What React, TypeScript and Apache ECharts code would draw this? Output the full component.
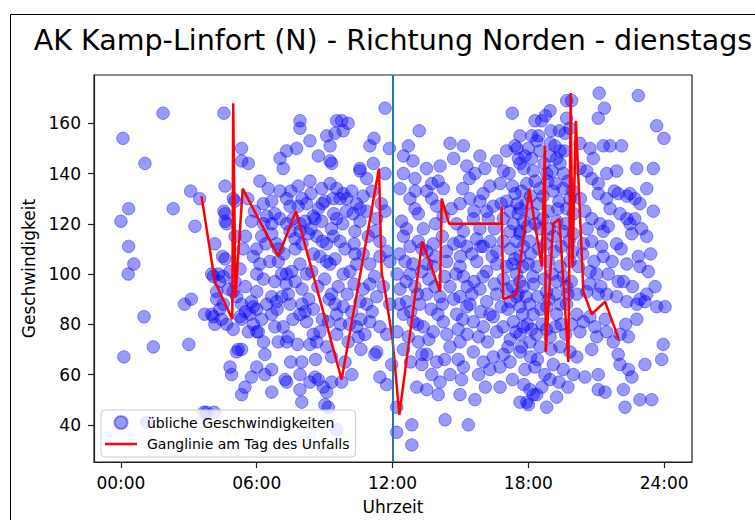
import React, { useEffect, useRef } from "react";
import * as echarts from "echarts";

const FONT = "DejaVu Sans";

const TITLE = "AK Kamp-Linfort (N) - Richtung Norden - dienstags";
const SCATTER_NAME = "übliche Geschwindigkeiten";
const LINE_NAME = "Ganglinie am Tag des Unfalls";

const HOUR_TICKS = [0, 6, 12, 18, 24];
const SPEED_TICKS = [40, 60, 80, 100, 120, 140, 160];
const ACCIDENT_HOUR = 12;

// usual speeds [hour of day, km/h], grouped by time block
const night: [number, number][] = [
  [1.86, 164], [0.09, 154], [1.06, 144], [3.08, 133], [3.48, 130], [0.34, 126], [2.31, 126],
  [0.0, 121], [3.27, 119], [0.34, 111], [0.57, 104], [0.32, 100], [3.11, 90], [2.81, 88],
  [1.02, 83], [3.7, 84], [1.43, 71], [3.0, 72], [0.13, 67], [3.67, 45], [1.15, 41], [3.79, 45],
];

const morning: [number, number][] = [
  [4.55, 164], [7.91, 161], [7.91, 158], [5.33, 150], [7.32, 149], [7.76, 150], [7.03, 146],
  [7.17, 142], [5.33, 145], [5.63, 144], [6.14, 137], [6.51, 134], [7.03, 133], [7.83, 135],
  [4.6, 135], [4.96, 130], [6.29, 128], [6.66, 129], [7.32, 130], [7.47, 127], [7.83, 127],
  [4.55, 125], [4.6, 121], [5.77, 121], [6.44, 123], [6.66, 120], [7.03, 122], [7.32, 120],
  [7.61, 122], [7.91, 120], [6.22, 115], [6.66, 116], [6.88, 112], [6.95, 110], [7.47, 117],
  [7.69, 114], [7.91, 117], [4.15, 112], [4.49, 107], [4.6, 106], [5.4, 110], [5.26, 102],
  [5.85, 107], [6.14, 104], [6.58, 105], [6.95, 105], [7.1, 100], [7.32, 100], [7.54, 101],
  [7.91, 104], [4.01, 100], [4.37, 97], [4.23, 93], [4.74, 94], [4.52, 88], [4.01, 84],
  [4.15, 80], [4.67, 80], [4.96, 78], [5.33, 88], [5.77, 89], [5.85, 87], [5.7, 84],
  [6.22, 82], [6.44, 88], [5.33, 82], [5.63, 77], [6.07, 77], [6.66, 91], [6.88, 89],
  [7.1, 91], [7.39, 92], [7.47, 88], [6.66, 84], [6.8, 79], [7.17, 79], [7.39, 75],
  [6.95, 73], [7.32, 73], [7.91, 84], [5.11, 69], [5.33, 70], [6.36, 68], [4.82, 63],
  [4.89, 60], [5.77, 59], [6.36, 60], [6.66, 62], [5.48, 55], [5.33, 52], [6.66, 53],
  [7.25, 58], [7.32, 57], [7.91, 60], [7.99, 65], [7.91, 54], [7.99, 49], [4.08, 99],
  [4.3, 100], [4.52, 99], [4.82, 101], [5.04, 97], [6.0, 100], [4.23, 90], [4.96, 93],
  [5.11, 91], [4.08, 83], [4.37, 86], [4.45, 82], [5.26, 83], [5.85, 80], [6.0, 77],
  [5.18, 70], [4.6, 124], [4.67, 120], [5.04, 115], [5.04, 129], [4.12, 45],
  [5.6, 130], [5.9, 125], [6.3, 120], [6.8, 124], [7.5, 133], [5.5, 115], [6.0, 110],
  [6.4, 112], [7.2, 108], [7.7, 110], [5.5, 95], [6.0, 93], [6.3, 98], [6.8, 97], [7.3, 96],
  [7.7, 97], [5.5, 85], [6.0, 86], [6.9, 86], [7.6, 82], [6.3, 73], [7.8, 72], [7.5, 65],
  [6.0, 63],
];

const midday: [number, number][] = [
  [8.2, 128], [9.53, 161], [9.75, 161], [10.04, 160], [9.09, 155], [9.46, 156], [9.82, 157],
  [8.35, 153], [9.24, 151], [8.72, 147], [9.24, 145], [9.31, 144], [10.56, 141], [8.35, 137],
  [8.87, 134], [9.24, 136], [9.53, 134], [9.82, 132], [8.72, 126], [9.01, 129], [9.38, 130],
  [9.68, 130], [9.97, 130], [10.41, 128], [10.56, 126], [8.5, 123], [8.57, 122], [8.87, 121],
  [9.53, 122], [9.97, 125], [10.26, 124], [10.56, 121], [10.34, 117], [8.13, 121], [8.28, 116],
  [8.65, 115], [9.09, 112], [9.38, 115], [9.68, 113], [8.5, 108], [8.79, 107], [9.09, 105],
  [8.2, 100], [8.43, 101], [9.24, 104], [9.46, 106], [9.82, 100], [10.12, 101], [10.34, 108],
  [10.41, 104], [8.13, 85], [8.2, 81], [8.5, 76], [8.79, 77], [9.16, 81], [8.35, 72],
  [8.65, 73], [9.09, 71], [9.31, 67], [9.46, 88], [9.53, 84], [9.82, 87], [10.19, 85],
  [10.41, 79], [9.53, 76], [10.04, 73], [10.49, 75], [8.57, 59], [8.72, 58], [8.94, 55],
  [9.09, 53], [9.31, 57], [9.75, 57], [8.35, 57], [9.01, 48], [9.16, 47], [9.53, 38],
  [11.67, 166], [11.0, 151], [11.18, 154], [11.86, 150], [10.56, 142], [10.86, 138],
  [11.15, 144], [11.67, 140], [10.86, 125], [11.3, 122], [11.67, 125], [10.93, 115],
  [11.44, 113], [11.74, 109], [11.0, 104], [11.44, 107], [11.88, 105], [11.0, 96], [11.3, 91],
  [10.86, 88], [10.56, 89], [11.59, 95], [11.88, 88], [11.0, 81], [11.44, 79], [11.74, 76],
  [10.78, 76], [11.3, 69], [11.22, 68], [11.44, 59], [11.74, 56], [11.96, 64],
  [8.0, 130], [8.4, 132], [8.9, 128], [9.4, 124], [9.8, 120], [10.2, 133], [10.7, 131],
  [11.1, 133], [11.5, 128], [8.0, 112], [8.4, 118], [8.9, 113], [9.3, 118], [9.9, 110],
  [10.3, 112], [10.7, 108], [11.2, 117], [8.0, 94], [8.3, 90], [8.7, 95], [9.0, 98], [9.3, 92],
  [9.6, 95], [10.0, 92], [10.3, 96], [10.7, 94], [11.2, 99], [8.0, 88], [8.5, 86], [8.9, 82],
  [9.2, 90], [9.7, 80], [10.1, 80], [10.6, 82], [11.1, 85], [8.6, 66], [9.9, 65], [10.6, 70],
  [10.2, 60],
];

const afternoon: [number, number][] = [
  [12.48, 147], [12.7, 151], [14.54, 152], [15.13, 151], [13.18, 157], [12.48, 140], [12.99, 138],
  [13.73, 136], [14.02, 137], [14.24, 134], [15.28, 143], [15.64, 140], [15.86, 147], [12.33, 134],
  [12.77, 130], [12.99, 126], [13.51, 133], [13.73, 130], [13.95, 127], [14.98, 128], [15.42, 130],
  [15.86, 129], [12.4, 121], [12.62, 118], [13.14, 124], [13.36, 118], [14.24, 123], [14.83, 120],
  [15.13, 117], [15.57, 122], [15.86, 118], [12.48, 115], [12.77, 111], [13.14, 113], [13.51, 109],
  [13.8, 112], [14.39, 109], [14.98, 113], [15.28, 111], [15.72, 114], [12.55, 105], [12.77, 100],
  [13.29, 101], [13.51, 104], [13.8, 103], [14.39, 105], [14.98, 103], [15.13, 99], [15.72, 105],
  [12.33, 94], [12.62, 89], [12.99, 95], [13.51, 92], [13.87, 95], [14.1, 91], [14.54, 95],
  [14.98, 91], [15.42, 88], [15.86, 94], [12.48, 84], [12.92, 81], [13.36, 79], [13.8, 77],
  [14.24, 81], [14.83, 84], [15.28, 87], [15.57, 81], [12.48, 70], [13.14, 73], [13.51, 68],
  [13.95, 65], [14.54, 71], [14.98, 73], [15.13, 63], [15.57, 69], [13.29, 64], [13.73, 60],
  [14.54, 60], [14.9, 66], [13.07, 55], [13.51, 54], [14.02, 52], [15.05, 58], [14.98, 52],
  [15.64, 50], [12.18, 47], [12.18, 37], [12.85, 40], [12.85, 32], [14.32, 42], [15.35, 40],
  [12.9, 145], [13.5, 142], [14.1, 143], [14.7, 146], [15.4, 138], [13.0, 133], [13.9, 120],
  [14.6, 126], [15.1, 134], [15.6, 125], [12.3, 108], [12.9, 104], [13.3, 110], [13.9, 107],
  [14.2, 115], [14.7, 112], [15.0, 107], [15.5, 108], [12.2, 100], [12.6, 97], [13.1, 92],
  [13.6, 98], [14.3, 99], [14.8, 100], [15.3, 95], [15.6, 97], [12.3, 88], [12.8, 85],
  [13.2, 88], [13.7, 86], [14.2, 88], [14.7, 90], [15.1, 82], [15.5, 92], [12.2, 77], [12.7, 75],
  [13.1, 80], [13.6, 74], [14.0, 84], [14.4, 76], [14.9, 78], [15.3, 76], [15.8, 75], [12.8, 65],
  [13.3, 68], [14.3, 66], [15.8, 60], [14.1, 57],
];

const evening: [number, number][] = [
  [16.6, 145], [16.08, 142], [17.29, 164], [17.04, 149], [17.41, 151], [17.56, 146], [16.75, 136],
  [16.16, 125], [16.45, 127], [17.04, 129], [17.41, 132], [16.23, 122], [16.89, 122], [17.34, 120],
  [17.63, 117], [17.78, 121], [16.01, 111], [16.31, 113], [16.6, 109], [17.19, 117], [17.48, 113],
  [17.78, 111], [16.16, 101], [16.6, 104], [17.04, 103], [17.48, 100], [16.16, 89], [16.6, 92],
  [17.04, 94], [17.48, 91], [17.78, 95], [16.01, 79], [16.45, 83], [16.89, 79], [17.34, 81],
  [17.78, 79], [16.01, 65], [16.45, 67], [16.75, 63], [17.19, 65], [17.63, 69], [16.75, 55],
  [17.63, 49], [19.69, 169], [19.91, 169], [18.96, 165], [18.29, 161], [18.59, 161], [19.69, 162],
  [19.84, 158], [19.37, 157], [19.62, 156], [17.63, 155], [18.15, 155], [18.37, 153], [18.96, 152],
  [19.18, 151], [19.4, 149], [17.85, 147], [18.15, 146], [18.51, 149], [18.96, 147], [19.4, 144],
  [17.63, 144], [18.22, 141], [18.81, 140], [17.93, 136], [18.51, 134], [19.1, 133], [19.54, 134],
  [19.84, 130], [17.63, 126], [18.22, 124], [18.88, 125], [19.25, 121], [19.69, 126], [19.99, 124],
  [17.63, 116], [18.07, 113], [18.51, 118], [19.1, 115], [19.54, 117], [19.99, 116], [17.63, 107],
  [18.0, 104], [18.37, 103], [18.88, 105], [19.4, 103], [19.84, 105], [17.63, 97], [18.22, 96],
  [18.81, 93], [19.25, 97], [19.69, 95], [17.63, 87], [18.22, 84], [18.81, 87], [19.25, 84],
  [19.69, 88], [17.63, 76], [18.07, 73], [18.51, 71], [18.96, 75], [19.4, 71], [19.84, 69],
  [17.85, 62], [18.29, 63], [18.73, 60], [19.1, 64], [19.54, 62], [19.99, 60], [18.07, 54],
  [18.37, 52], [18.81, 47], [19.25, 51], [17.93, 49], [18.0, 48], [18.22, 52],
  [16.3, 135], [16.9, 141], [16.0, 132], [16.5, 118], [16.8, 128], [15.9, 111], [16.4, 107],
  [16.9, 113], [17.2, 125], [16.0, 99], [16.5, 96], [16.9, 98], [17.3, 104], [15.9, 85],
  [16.3, 84], [16.8, 87], [17.2, 89], [16.2, 73], [16.6, 77], [17.1, 71], [16.3, 62], [16.9, 68],
  [16.1, 55], [17.15, 140], [17.3, 135], [17.5, 128], [17.7, 133], [17.9, 128], [18.1, 131],
  [18.3, 137], [18.45, 128], [18.65, 131], [18.85, 137], [19.05, 141], [19.2, 136], [19.35, 129],
  [19.55, 140], [19.75, 137], [19.95, 133], [17.2, 110], [17.4, 106], [17.55, 124], [17.75, 103],
  [17.95, 119], [18.1, 108], [18.3, 120], [18.45, 110], [18.65, 122], [18.75, 112], [18.95, 118],
  [19.15, 109], [19.3, 126], [19.45, 111], [19.65, 120], [19.8, 113], [19.95, 109], [17.1, 86],
  [17.3, 95], [17.55, 92], [17.75, 84], [17.9, 91], [18.05, 88], [18.2, 99], [18.4, 91],
  [18.55, 86], [18.7, 98], [18.9, 90], [19.05, 100], [19.2, 92], [19.4, 88], [19.55, 99],
  [19.75, 92], [19.9, 97], [17.2, 74], [17.45, 77], [17.7, 71], [17.95, 80], [18.15, 78],
  [18.35, 76], [18.6, 80], [18.8, 78], [19.0, 70], [19.2, 79], [19.45, 80], [19.65, 76],
  [19.9, 80], [17.3, 58], [17.8, 56], [18.4, 66], [18.95, 58], [19.35, 57], [19.75, 55],
  [18.6, 55], [18.1, 67], [17.5, 150], [17.8, 142], [18.0, 150], [18.7, 144], [19.25, 146],
  [19.6, 149], [18.45, 155], [19.0, 157], [18.75, 163],
];

const late: [number, number][] = [
  [21.13, 172], [22.86, 171], [21.36, 166], [21.09, 162], [23.67, 159], [23.99, 154], [20.28, 152],
  [20.72, 150], [21.31, 151], [21.61, 151], [22.12, 151], [20.87, 146], [22.79, 142], [23.52, 142],
  [21.9, 141], [21.46, 140], [20.28, 142], [20.58, 141], [20.8, 138], [21.09, 136], [23.23, 134],
  [21.09, 132], [21.46, 130], [21.97, 132], [22.35, 131], [22.49, 132], [22.71, 130], [22.93, 128],
  [23.52, 125], [21.61, 126], [22.05, 124], [22.35, 122], [22.49, 120], [20.5, 125], [20.8, 122],
  [21.17, 120], [21.31, 117], [21.53, 119], [23.23, 115], [22.57, 116], [21.9, 112], [22.35, 104],
  [22.86, 107], [20.43, 112], [20.8, 113], [21.24, 111], [21.31, 107], [22.93, 103], [23.3, 101],
  [21.97, 97], [22.2, 97], [21.53, 100], [20.21, 103], [20.72, 101], [21.02, 100], [20.14, 92],
  [20.58, 93], [20.72, 96], [21.09, 92], [21.46, 92], [21.9, 91], [22.35, 89], [22.79, 88],
  [23.23, 92], [23.67, 87], [24.04, 87], [23.15, 89], [22.93, 90], [22.79, 82], [20.14, 84],
  [20.43, 81], [20.28, 77], [20.72, 83], [20.94, 79], [21.02, 75], [21.46, 77], [21.75, 73],
  [22.05, 76], [22.42, 75], [21.97, 68], [22.05, 64], [22.42, 62], [22.57, 59], [23.96, 72],
  [23.89, 66], [23.15, 64], [20.14, 67], [20.5, 59], [21.09, 60], [21.09, 54], [21.39, 53],
  [22.2, 54], [22.27, 47], [22.93, 50], [23.45, 50],
  [20.3, 130], [20.6, 118], [20.9, 105], [21.2, 95], [21.7, 105], [22.1, 110], [22.6, 95],
  [23.0, 118], [23.4, 108], [21.8, 133], [22.7, 122], [20.4, 108], [21.4, 82], [22.3, 80],
  [20.8, 70], [23.6, 95],
];

// speed profile on the day of the accident
const accidentDay: [number, number][] = [
  [3.56, 131], [4.15, 97], [4.92, 82], [4.96, 168], [5.06, 91], [5.38, 134], [6.95, 107],
  [7.73, 125], [9.75, 58], [11.4, 142], [11.52, 100], [11.6, 97], [12.0, 74], [12.3, 44],
  [13.31, 113], [14.1, 93], [14.17, 130], [14.5, 120], [16.8, 120], [16.82, 127], [16.89, 90],
  [17.48, 92], [18.04, 134], [18.59, 103], [18.73, 151], [18.77, 69], [19.1, 120], [19.37, 122],
  [19.77, 65], [19.87, 172], [19.95, 103], [20.1, 161], [20.43, 93], [20.8, 84], [21.39, 89],
  [22.0, 74],
];

const usualSpeeds = [...night, ...morning, ...midday, ...afternoon, ...evening, ...late];

const hhmm = (v: number) => `${String(Math.round(v)).padStart(2, "0")}:00`;

// plain stroke for the line entry of the legend
const LINE_LEGEND_ICON = "path://M0,0H32V2.5H0Z";

export default function App() {
  const ref = useRef<HTMLDivElement>(null);

  useEffect(() => {
    if (!ref.current) return;
    const chart = echarts.init(ref.current, undefined, { renderer: "svg" });
    const axisText = { fontFamily: FONT, fontSize: 17, color: "#000" };

    chart.setOption({
      animation: false,
      backgroundColor: "#fff",
      textStyle: { fontFamily: FONT },
      grid: {
        left: 94,
        top: 75,
        width: 598,
        height: 388,
        show: true,
        borderColor: "#222",
        borderWidth: 1.2,
        backgroundColor: "transparent",
      },
      graphic: [
        {
          type: "rect",
          shape: { x: 10.5, y: 14.5, width: 900, height: 700 },
          style: { fill: "none", stroke: "#000", lineWidth: 1 },
          silent: true,
          z: -1,
        },
        {
          type: "text",
          x: 393,
          y: 40,
          style: {
            text: TITLE,
            fontFamily: FONT,
            fontSize: 28.5,
            fill: "#000",
            align: "center",
            verticalAlign: "middle",
          },
          silent: true,
        },
      ],
      xAxis: {
        type: "value",
        min: -1.19,
        max: 25.23,
        name: "Uhrzeit",
        nameLocation: "middle",
        nameGap: 36,
        nameTextStyle: axisText,
        splitLine: { show: false },
        axisLine: { show: true, onZero: false, lineStyle: { color: "#222", width: 1.2 } },
        axisTick: {
          show: true,
          length: 6,
          customValues: HOUR_TICKS,
          lineStyle: { color: "#222", width: 1.2 },
        },
        axisLabel: {
          ...axisText,
          margin: 12,
          customValues: HOUR_TICKS,
          formatter: (v: number) => hhmm(v),
        },
      },
      yAxis: {
        type: "value",
        min: 25.2,
        max: 179.2,
        name: "Geschwindigkeit",
        nameLocation: "middle",
        nameGap: 54,
        nameTextStyle: axisText,
        splitLine: { show: false },
        axisLine: { show: true, onZero: false, lineStyle: { color: "#222", width: 1.2 } },
        axisTick: {
          show: true,
          length: 6,
          customValues: SPEED_TICKS,
          lineStyle: { color: "#222", width: 1.2 },
        },
        axisLabel: {
          ...axisText,
          margin: 13,
          customValues: SPEED_TICKS,
          formatter: (v: number) => String(Math.round(v)),
        },
      },
      legend: {
        data: [
          { name: SCATTER_NAME, icon: "circle" },
          { name: LINE_NAME, icon: LINE_LEGEND_ICON },
        ],
        orient: "vertical",
        left: 101,
        top: 410,
        padding: [5, 6, 6, 4],
        itemWidth: 32,
        itemHeight: 13,
        itemGap: 7,
        backgroundColor: "rgba(255,255,255,0.8)",
        borderColor: "#ccc",
        borderWidth: 1,
        borderRadius: 4,
        textStyle: { fontFamily: FONT, fontSize: 14, color: "#000", padding: [0, 0, 0, 5] },
      },
      series: [
        {
          name: SCATTER_NAME,
          type: "scatter",
          data: usualSpeeds,
          symbol: "circle",
          symbolSize: 12.5,
          itemStyle: {
            color: "rgba(0,0,255,0.5)",
            borderColor: "rgba(0,0,255,0.5)",
            borderWidth: 1,
          },
          markLine: {
            silent: true,
            symbol: ["none", "none"],
            label: { show: false },
            lineStyle: { color: "#1f77b4", width: 2, type: "solid" },
            data: [{ xAxis: ACCIDENT_HOUR }],
          },
          z: 2,
        },
        {
          name: LINE_NAME,
          type: "line",
          data: accidentDay,
          symbol: "none",
          lineStyle: { color: "#ff0000", width: 2.5 },
          itemStyle: { color: "#ff0000" },
          z: 3,
        },
      ],
    });

    return () => chart.dispose();
  }, []);

  return (
    <div
      ref={ref}
      style={{ position: "fixed", left: 0, top: 0, width: 755, height: 520, background: "#fff" }}
    />
  );
}
